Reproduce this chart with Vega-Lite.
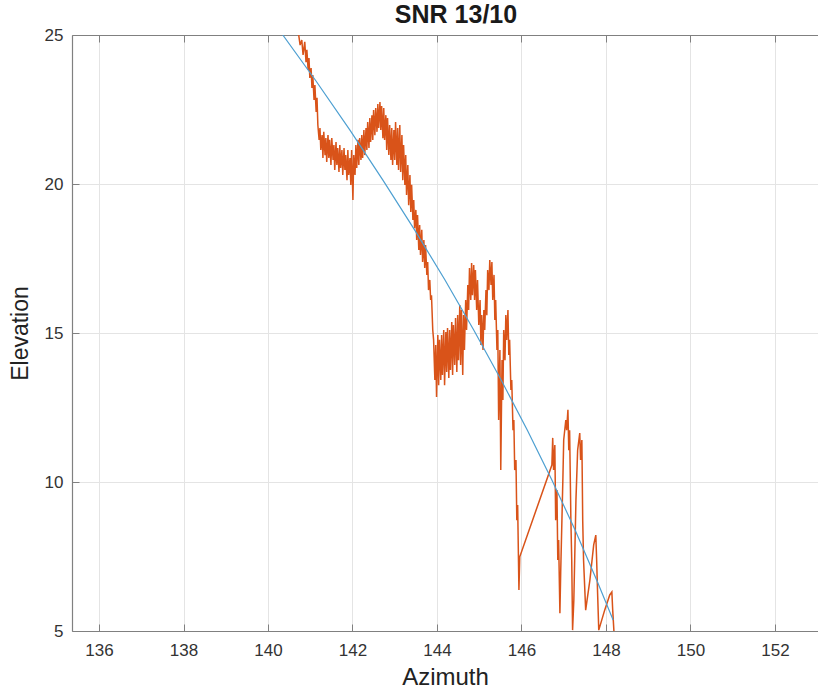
{
  "$schema": "https://vega.github.io/schema/vega-lite/v6.json",
  "width": 746,
  "height": 596,
  "autosize": {"type": "none"},
  "padding": {"left": 72, "top": 35, "right": 0, "bottom": 57},
  "background": "white",
  "title": {"text": "SNR 13/10", "font": "Liberation Sans", "fontSize": 25, "fontWeight": "bold", "color": "#1a1a1a", "anchor": "middle", "offset": -2, "dx": 11},
  "config": {
    "view": {"stroke": null},
    "axis": {"labelFont": "Liberation Sans", "titleFont": "Liberation Sans", "domainColor": "#808080", "domainWidth": 1.2, "tickColor": "#808080", "gridColor": "#e4e4e4", "labelColor": "#333333", "titleColor": "#222222", "titleFontWeight": "normal"}
  },
  "datasets": {
    "snr": [
      {"az":140.71,"el":25.17},{"az":140.76,"el":24.66},{"az":140.80,"el":24.83},{"az":140.83,"el":24.33},{"az":140.87,"el":24.77},{"az":140.90,"el":24.09},{"az":140.92,"el":24.50},{"az":140.95,"el":23.83},{"az":140.97,"el":24.23},{"az":140.99,"el":23.56},{"az":141.02,"el":23.89},{"az":141.04,"el":23.22},{"az":141.06,"el":23.66},{"az":141.09,"el":22.82},{"az":141.11,"el":23.32},{"az":141.14,"el":22.42},{"az":141.16,"el":22.89},{"az":141.18,"el":21.98},
      {"az":141.21,"el":21.48},{"az":141.23,"el":21.88},{"az":141.25,"el":21.14},{"az":141.28,"el":21.64},{"az":141.30,"el":20.87},{"az":141.32,"el":21.75},{"az":141.35,"el":20.97},{"az":141.37,"el":21.54},{"az":141.39,"el":20.74},{"az":141.42,"el":21.64},{"az":141.44,"el":20.87},{"az":141.46,"el":21.48},{"az":141.49,"el":20.64},{"az":141.51,"el":21.54},{"az":141.54,"el":20.81},{"az":141.56,"el":21.31},{"az":141.58,"el":20.47},{"az":141.61,"el":21.41},{"az":141.63,"el":20.64},{"az":141.65,"el":21.21},{"az":141.68,"el":20.40},{"az":141.70,"el":21.31},{"az":141.72,"el":20.54},{"az":141.75,"el":21.14},{"az":141.77,"el":20.30},{"az":141.80,"el":21.21},{"az":141.82,"el":20.47},{"az":141.84,"el":20.97},{"az":141.87,"el":20.13},{"az":141.89,"el":21.14},{"az":141.91,"el":20.30},{"az":141.94,"el":20.87},{"az":141.96,"el":19.97},{"az":141.98,"el":21.14},{"az":142.01,"el":19.46},{"az":142.03,"el":20.97},{"az":142.06,"el":20.30},{"az":142.08,"el":21.31},{"az":142.10,"el":20.54},{"az":142.13,"el":21.48},{"az":142.15,"el":20.64},{"az":142.17,"el":21.54},
      {"az":142.20,"el":20.81},{"az":142.22,"el":21.64},{"az":142.24,"el":20.87},{"az":142.27,"el":21.81},{"az":142.29,"el":20.97},{"az":142.32,"el":21.88},{"az":142.34,"el":21.14},{"az":142.36,"el":22.08},{"az":142.39,"el":21.21},{"az":142.41,"el":22.21},{"az":142.43,"el":21.41},{"az":142.46,"el":22.31},{"az":142.48,"el":21.48},{"az":142.50,"el":22.48},{"az":142.53,"el":21.64},{"az":142.55,"el":22.55},{"az":142.58,"el":21.75},{"az":142.60,"el":22.68},{"az":142.62,"el":21.88},{"az":142.65,"el":22.75},{"az":142.67,"el":21.81},{"az":142.69,"el":22.62},{"az":142.72,"el":21.54},{"az":142.74,"el":22.55},{"az":142.76,"el":21.48},{"az":142.79,"el":22.31},{"az":142.81,"el":21.14},{"az":142.83,"el":22.21},{"az":142.86,"el":20.97},{"az":142.88,"el":21.98},{"az":142.91,"el":20.81},{"az":142.93,"el":21.88},{"az":142.95,"el":20.64},{"az":142.98,"el":21.81},{"az":143.00,"el":20.81},{"az":143.02,"el":22.08},{"az":143.05,"el":20.64},{"az":143.07,"el":21.88},{"az":143.09,"el":20.47},{"az":143.12,"el":21.98},{"az":143.14,"el":20.40},{"az":143.17,"el":21.64},{"az":143.19,"el":20.13},{"az":143.21,"el":21.31},{"az":143.24,"el":19.97},{"az":143.26,"el":20.97},{"az":143.28,"el":19.63},{"az":143.31,"el":20.64},{"az":143.33,"el":19.29},{"az":143.36,"el":20.30},{"az":143.38,"el":19.06},{"az":143.40,"el":19.97},{"az":143.43,"el":18.79},{"az":143.45,"el":19.46},{"az":143.47,"el":18.52},{"az":143.50,"el":19.13},{"az":143.52,"el":18.12},{"az":143.54,"el":18.96},{"az":143.57,"el":17.79},{"az":143.59,"el":18.62},{"az":143.61,"el":17.62},{"az":143.64,"el":18.46},{"az":143.66,"el":17.38},{"az":143.69,"el":18.12},{"az":143.71,"el":17.18},{"az":143.73,"el":17.95},{"az":143.76,"el":16.95},{"az":143.78,"el":17.38},{"az":143.80,"el":16.44},{"az":143.83,"el":16.78},{"az":143.85,"el":16.11},{"az":143.87,"el":16.27},{"az":143.90,"el":15.10},
      {"az":143.92,"el":14.77},{"az":143.95,"el":13.42},{"az":143.97,"el":14.60},{"az":143.99,"el":12.85},{"az":144.02,"el":14.93},{"az":144.04,"el":13.25},{"az":144.06,"el":14.77},{"az":144.09,"el":13.42},{"az":144.11,"el":14.93},{"az":144.13,"el":13.59},{"az":144.16,"el":15.10},{"az":144.18,"el":13.25},{"az":144.21,"el":15.03},{"az":144.23,"el":13.69},{"az":144.25,"el":15.17},{"az":144.28,"el":13.49},{"az":144.30,"el":15.10},{"az":144.32,"el":13.76},{"az":144.35,"el":15.37},{"az":144.37,"el":13.59},{"az":144.39,"el":15.27},{"az":144.42,"el":13.93},{"az":144.44,"el":15.50},{"az":144.47,"el":13.69},{"az":144.49,"el":15.60},{"az":144.51,"el":14.09},{"az":144.54,"el":15.94},{"az":144.56,"el":13.93},{"az":144.58,"el":15.77},{"az":144.61,"el":13.59},{"az":144.63,"el":15.60},{"az":144.65,"el":14.43},{"az":144.68,"el":16.11},
      {"az":144.70,"el":15.10},{"az":144.73,"el":16.61},{"az":144.75,"el":15.77},{"az":144.77,"el":17.18},{"az":144.80,"el":16.11},{"az":144.82,"el":17.35},{"az":144.84,"el":16.27},{"az":144.87,"el":17.28},{"az":144.89,"el":16.11},{"az":144.91,"el":17.11},{"az":144.94,"el":15.77},{"az":144.96,"el":16.78},{"az":144.99,"el":15.27},{"az":145.02,"el":16.11},{"az":145.04,"el":14.60},{"az":145.06,"el":15.60},{"az":145.09,"el":14.43},{"az":145.11,"el":15.77},{"az":145.13,"el":15.10},{"az":145.16,"el":16.44},{"az":145.18,"el":15.60},{"az":145.20,"el":17.11},{"az":145.23,"el":16.44},{"az":145.25,"el":17.45},{"az":145.28,"el":16.61},{"az":145.30,"el":17.38},{"az":145.32,"el":16.11},{"az":145.35,"el":16.95},{"az":145.37,"el":15.44},{"az":145.39,"el":16.11},{"az":145.42,"el":14.43},{"az":145.44,"el":15.10},{"az":145.46,"el":12.08},{"az":145.49,"el":14.43},{"az":145.51,"el":10.40},{"az":145.54,"el":14.09},{"az":145.56,"el":12.75},{"az":145.58,"el":15.10},{"az":145.61,"el":14.09},{"az":145.63,"el":15.60},{"az":145.65,"el":14.77},{"az":145.68,"el":15.77},{"az":145.70,"el":14.26},{"az":145.72,"el":14.77},{"az":145.75,"el":13.09},{"az":145.77,"el":13.42},{"az":145.80,"el":11.74},{"az":145.82,"el":12.08},{"az":145.84,"el":10.40},{"az":145.87,"el":10.74},{"az":145.89,"el":8.72},{"az":145.91,"el":9.23},{"az":145.94,"el":6.38},{"az":145.96,"el":7.49},
      {"az":146.72,"el":10.57},{"az":146.74,"el":11.48},{"az":146.76,"el":10.40},{"az":146.79,"el":11.24},{"az":146.81,"el":8.72},{"az":146.84,"el":9.73},{"az":146.86,"el":7.38},{"az":146.88,"el":8.05},{"az":146.91,"el":5.60},{"az":146.93,"el":7.05},{"az":146.98,"el":10.07},{"az":147.00,"el":11.41},{"az":147.05,"el":12.08},{"az":147.07,"el":11.74},{"az":147.10,"el":12.42},{"az":147.12,"el":11.07},{"az":147.14,"el":11.74},{"az":147.17,"el":8.72},{"az":147.19,"el":7.38},{"az":147.21,"el":5.03},{"az":147.24,"el":6.04},{"az":147.29,"el":9.40},{"az":147.33,"el":11.07},{"az":147.38,"el":11.64},{"az":147.40,"el":10.74},{"az":147.43,"el":11.41},{"az":147.45,"el":8.72},{"az":147.47,"el":7.38},{"az":147.52,"el":5.70},{"az":147.62,"el":6.71},{"az":147.71,"el":7.89},{"az":147.76,"el":8.22},{"az":147.78,"el":7.38},{"az":147.80,"el":6.38},{"az":147.83,"el":5.03},{"az":147.97,"el":5.70},{"az":148.09,"el":6.21},{"az":148.14,"el":6.31},{"az":148.16,"el":5.70},{"az":148.19,"el":4.97}
    ],
    "fit": [
      {"az":140.35,"el":25.0},{"az":141.12,"el":23.49},{"az":141.94,"el":21.81},{"az":142.72,"el":20.13},{"az":143.47,"el":18.46},{"az":144.19,"el":16.78},{"az":144.87,"el":15.10},{"az":145.52,"el":13.42},{"az":146.14,"el":11.74},{"az":146.72,"el":10.07},{"az":147.27,"el":8.39},{"az":147.78,"el":6.71},{"az":148.17,"el":5.37}
    ]
  },
  "layer": [
    {
      "data": {"name": "snr"},
      "mark": {"type": "line", "color": "#d95319", "strokeWidth": 1.5, "clip": true},
      "encoding": {
        "x": {"field": "az", "type": "quantitative", "scale": {"domain": [135.36, 153.02], "nice": false, "zero": false},
          "axis": {"orient": "bottom", "values": [136,138,140,142,144,146,148,150,152], "grid": true, "tickSize": -7, "labelFontSize": 17, "labelPadding": 18, "title": "Azimuth", "titleFontSize": 24, "titlePadding": 7}},
        "y": {"field": "el", "type": "quantitative", "scale": {"domain": [5, 25], "nice": false, "zero": false},
          "axis": {"orient": "left", "values": [5,10,15,20,25], "grid": true, "tickSize": -7, "labelFontSize": 17, "labelPadding": 16, "title": "Elevation", "titleFontSize": 23, "titlePadding": 12}}
      }
    },
    {
      "data": {"name": "fit"},
      "mark": {"type": "line", "color": "#4d9fd1", "strokeWidth": 1.2, "clip": true},
      "encoding": {
        "x": {"field": "az", "type": "quantitative", "scale": {"domain": [135.36, 153.02], "nice": false, "zero": false},
          "axis": {"orient": "top", "values": [136,138,140,142,144,146,148,150,152], "grid": false, "tickSize": -7, "labels": false, "title": null}},
        "y": {"field": "el", "type": "quantitative", "scale": {"domain": [5, 25], "nice": false, "zero": false}, "axis": null}
      }
    }
  ],
  "resolve": {"axis": {"x": "independent", "y": "independent"}}
}
